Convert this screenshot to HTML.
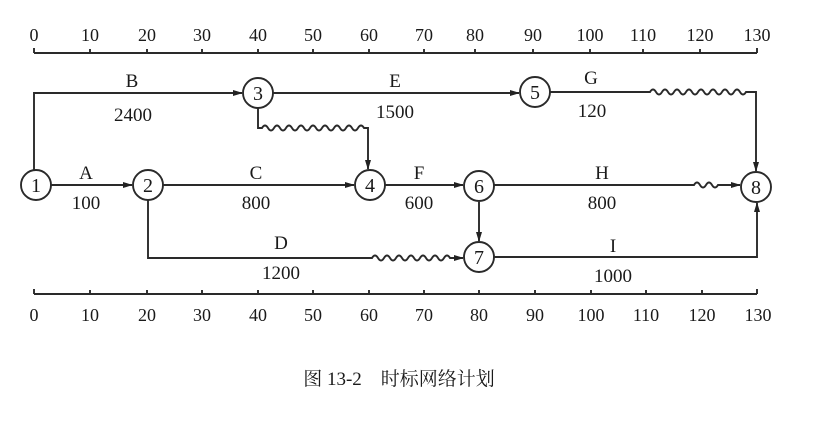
<!DOCTYPE html>
<html><head><meta charset="utf-8"><style>
html,body{margin:0;padding:0;background:#fff;}
svg{display:block;}
text{font-family:"Liberation Serif","Noto Serif CJK SC",serif;fill:#1a1a1a;}
</style></head><body>
<svg width="838" height="428" viewBox="0 0 838 428" xmlns="http://www.w3.org/2000/svg">
<defs>
<marker id="a" markerWidth="10" markerHeight="8" refX="9" refY="4" orient="auto" markerUnits="userSpaceOnUse">
<path d="M0,1 L10,4 L0,7 Z" fill="#222"/></marker>
</defs>
<g stroke="#2a2a2a" stroke-width="1.9" fill="none">
<line x1="34" y1="53" x2="757" y2="53"/>
<line x1="34" y1="294" x2="757" y2="294"/>
<path d="M34,48V53 M90,49V53 M147,49V53 M202,49V53 M258,49V53 M313,49V53 M369,49V53 M424,49V53 M475,49V53 M533,49V53 M590,49V53 M643,49V53 M700,49V53 M757,48V53"/>
<path d="M34,289V294 M90,290V294 M147,290V294 M202,290V294 M258,290V294 M313,290V294 M369,290V294 M424,290V294 M479,290V294 M535,290V294 M591,290V294 M646,290V294 M702,290V294 M757,289V294"/>
<path d="M34,170 V93 H242" marker-end="url(#a)"/>
<path d="M273,93 H519" marker-end="url(#a)"/>
<path d="M258,108 V128 H262 q3,-5 6,0 q3,5 6,0 q3,-5 6,0 q3,5 6,0 q3,-5 6,0 q3,5 6,0 q3,-5 6,0 q3,5 6,0 q3,-5 6,0 q3,5 6,0 q3,-5 6,0 q3,5 6,0 q3,-5 6,0 q3,5 6,0 q3,-5 6,0 q3,5 6,0 q3,-5 6,0 H368 V169" marker-end="url(#a)"/>
<path d="M51,185 H132" marker-end="url(#a)"/>
<path d="M163,185 H354" marker-end="url(#a)"/>
<path d="M385,185 H463" marker-end="url(#a)"/>
<path d="M550,92 H650 q3,-5 6,0 q3,5 6,0 q3,-5 6,0 q3,5 6,0 q3,-5 6,0 q3,5 6,0 q3,-5 6,0 q3,5 6,0 q3,-5 6,0 q3,5 6,0 q3,-5 6,0 q3,5 6,0 q3,-5 6,0 q3,5 6,0 q3,-5 6,0 q3,5 6,0 H756 V171" marker-end="url(#a)"/>
<path d="M494,185 H694 q3,-5 6,0 q3,5 6,0 q3,-5 6,0 q3,5 6,0 H740" marker-end="url(#a)"/>
<path d="M479,202 V241" marker-end="url(#a)"/>
<path d="M148,200 V258 H372 q3,-5 6,0 q3,5 6,0 q3,-5 6,0 q3,5 6,0 q3,-5 6,0 q3,5 6,0 q3,-5 6,0 q3,5 6,0 q3,-5 6,0 q3,5 6,0 q3,-5 6,0 q3,5 6,0 q3,-5 6,0 H463" marker-end="url(#a)"/>
<path d="M494,257 H757 V203" marker-end="url(#a)"/>
<circle cx="36" cy="185" r="15"/>
<circle cx="148" cy="185" r="15"/>
<circle cx="258" cy="93" r="15"/>
<circle cx="370" cy="185" r="15"/>
<circle cx="535" cy="92" r="15"/>
<circle cx="479" cy="186" r="15"/>
<circle cx="479" cy="257" r="15"/>
<circle cx="756" cy="187" r="15"/>
</g>
<g font-size="20" text-anchor="middle">
<text x="36" y="192">1</text><text x="148" y="192">2</text><text x="258" y="100">3</text>
<text x="370" y="192">4</text><text x="535" y="99">5</text><text x="479" y="193">6</text>
<text x="479" y="264">7</text><text x="756" y="194">8</text>
</g>
<g font-size="19" text-anchor="middle">
<text x="132" y="87">B</text><text x="133" y="121">2400</text>
<text x="395" y="87">E</text><text x="395" y="118">1500</text>
<text x="591" y="84">G</text><text x="592" y="117">120</text>
<text x="86" y="179">A</text><text x="86" y="209">100</text>
<text x="256" y="179">C</text><text x="256" y="209">800</text>
<text x="419" y="179">F</text><text x="419" y="209">600</text>
<text x="602" y="179">H</text><text x="602" y="209">800</text>
<text x="281" y="249">D</text><text x="281" y="279">1200</text>
<text x="613" y="252">I</text><text x="613" y="282">1000</text>
</g>
<g font-size="18" text-anchor="middle">
<text x="34" y="41">0</text><text x="90" y="41">10</text><text x="147" y="41">20</text>
<text x="202" y="41">30</text><text x="258" y="41">40</text><text x="313" y="41">50</text>
<text x="369" y="41">60</text><text x="424" y="41">70</text><text x="475" y="41">80</text>
<text x="533" y="41">90</text><text x="590" y="41">100</text><text x="643" y="41">110</text>
<text x="700" y="41">120</text><text x="757" y="41">130</text>
<text x="34" y="321">0</text><text x="90" y="321">10</text><text x="147" y="321">20</text>
<text x="202" y="321">30</text><text x="258" y="321">40</text><text x="313" y="321">50</text>
<text x="369" y="321">60</text><text x="424" y="321">70</text><text x="479" y="321">80</text>
<text x="535" y="321">90</text><text x="591" y="321">100</text><text x="646" y="321">110</text>
<text x="702" y="321">120</text><text x="758" y="321">130</text>
</g>
<text x="399" y="385" font-size="19" text-anchor="middle">图 13-2　时标网络计划</text>
</svg>
</body></html>
